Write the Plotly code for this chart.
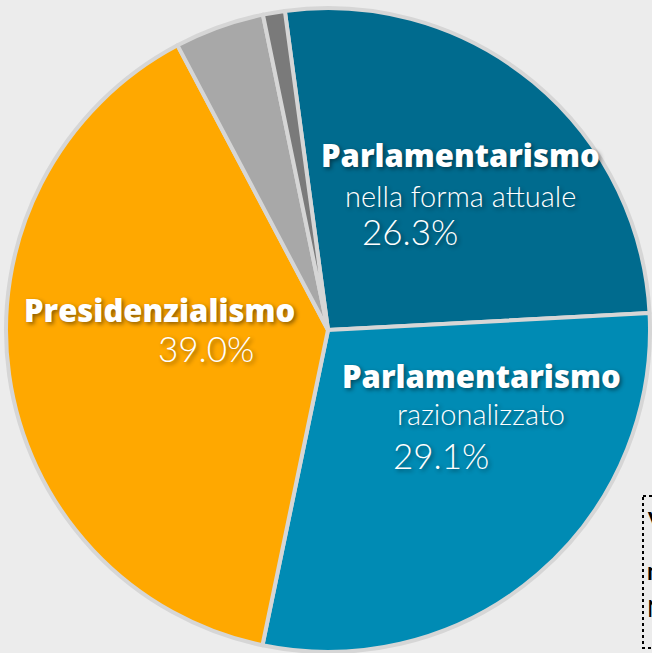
import plotly.graph_objects as go

W, H = 652, 653

# dati (ordine orario a partire dalle 12)
labels = ["Parlamentarismo nella forma attuale", "Parlamentarismo razionalizzato",
          "Presidenzialismo", "Altro", "Non sa"]
values = [26.3, 29.1, 39.0, 4.5, 1.1]
colors = ["#006B8E", "#008BB4", "#FFA800", "#A8A8A8", "#7A7A7A"]

BG = "#ECECEC"


def px(x, y):
    # da pixel (origine in alto a sinistra) a coordinate paper
    return x / W, 1 - y / H


fig = go.Figure(go.Pie(
    labels=labels,
    values=values,
    sort=False,
    direction="clockwise",
    rotation=-7.7,
    textinfo="none",
    hoverinfo="label+percent",
    marker=dict(colors=colors, line=dict(color="#D6D6D6", width=4)),
    domain=dict(x=[6 / W, 650 / W], y=[1 - 652 / H, 1 - 8 / H]),
    showlegend=False,
))

shadow = "2px 2px 4px rgba(0,0,0,0.45)"
bold = dict(family="Open Sans", size=31, color="white", weight=800, shadow=shadow)
light = dict(family="Lato", size=29, color="white", weight=300, shadow=shadow)
pct = dict(family="Lato", size=35, color="white", weight=300, shadow=shadow)

# etichette: (testo, x, y, font)
texts = [
    ("Parlamentarismo", 460, 155, bold),
    ("nella forma attuale", 460, 195, light),
    ("26.3%", 410, 231, pct),
    ("Presidenzialismo", 159, 310, bold),
    ("39.0%", 206, 348, pct),
    ("Parlamentarismo", 481, 376, bold),
    ("razionalizzato", 481, 414, light),
    ("29.1%", 441, 455, pct),
]
for t, x, y, f in texts:
    ax, ay = px(x, y)
    fig.add_annotation(x=ax, y=ay, xref="paper", yref="paper", text=t, showarrow=False,
                       xanchor="center", yanchor="middle", font=f)

# riquadro note in basso a destra (tagliato)
x0, y0 = px(643, 496)
x1, y1 = px(700, 648)
fig.add_shape(type="rect", xref="paper", yref="paper", x0=x0, y0=y0, x1=x1, y1=y1,
              line=dict(color="black", width=2, dash="dot"))
notes = [("<b>Valori %</b>", 520), ("<b>non sa</b>", 570), ("N", 607)]
for t, y in notes:
    ax, ay = px(645, y)
    fig.add_annotation(x=ax, y=ay, xref="paper", yref="paper", text=t, showarrow=False,
                       xanchor="left", yanchor="middle",
                       font=dict(family="Lato", size=24, color="black"))

fig.update_layout(
    width=W, height=H,
    margin=dict(l=0, r=0, t=0, b=0),
    paper_bgcolor=BG,
    plot_bgcolor=BG,
)

fig.write_html("out.html", config={"displayModeBar": False},
               post_script="document.body.style.margin='0';"
                           "document.body.style.background='#ECECEC';")
